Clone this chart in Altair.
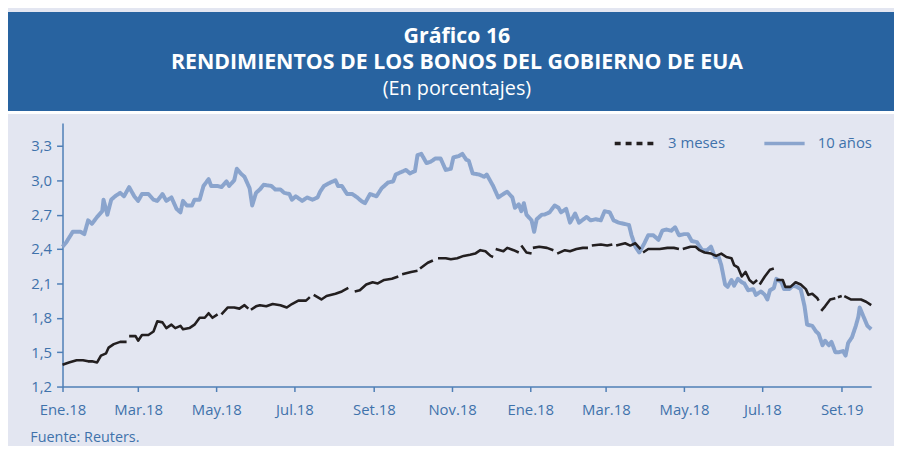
import altair as alt
import pandas as pd

# ---------------- data ----------------
TITLE_LINES = ["Gráfico 16", "RENDIMIENTOS DE LOS BONOS DEL GOBIERNO DE EUA", "(En porcentajes)"]
SOURCE = "Fuente: Reuters."
SERIES = ["3 meses", "10 años"]
X_TICK_DAYS = [0, 59, 120, 181, 243, 304, 365, 424, 485, 546, 608]
X_TICK_LABELS = ["Ene.18", "Mar.18", "May.18", "Jul.18", "Set.18", "Nov.18",
                 "Ene.18", "Mar.18", "May.18", "Jul.18", "Set.19"]
Y_TICKS = [1.2, 1.5, 1.8, 2.1, 2.4, 2.7, 3.0, 3.3]

# days counted from 1 Jan 2018
days_10y = [0, 3, 8, 14, 17, 20, 23, 27, 31, 32, 35, 38, 41, 45, 48, 52, 56, 59, 62, 67,
            71, 74, 78, 81, 85, 89, 92, 94, 97, 101, 103, 107, 110, 114, 116, 121, 124, 128,
            130, 134, 136, 139, 142, 146, 148, 151, 154, 157, 163, 166, 170, 173, 177, 179,
            182, 187, 191, 195, 199, 201, 204, 209, 213, 215, 218, 222, 226, 230, 233, 236,
            240, 245, 249, 254, 258, 260, 264, 268, 271, 275, 277, 280, 284, 287, 291, 295,
            299, 303, 305, 309, 312, 315, 317, 320, 325, 329, 331, 334, 336, 340, 344, 347,
            351, 353, 356, 358, 360, 362, 366, 368, 370, 374, 376, 380, 384, 387, 389, 393,
            396, 400, 403, 409, 412, 416, 420, 423, 427, 430, 434, 438, 442, 444, 447, 450,
            454, 457, 461, 465, 468, 471, 475, 478, 481, 485, 488, 491, 495, 499, 503, 506,
            509, 512, 514, 517, 519, 522, 524, 527, 530, 532, 535, 539, 541, 545, 548, 550,
            552, 555, 557, 561, 563, 567, 570, 573, 576, 579, 581, 585, 588, 590, 593, 595,
            598, 600, 603, 606, 609, 611, 613, 616, 619, 621, 622, 625, 628, 631]
vals_10y = [2.42, 2.46, 2.55, 2.55, 2.53, 2.65, 2.62, 2.68, 2.73, 2.83, 2.70, 2.83, 2.86,
            2.89, 2.86, 2.94, 2.86, 2.82, 2.88, 2.88, 2.83, 2.82, 2.88, 2.82, 2.85, 2.75,
            2.72, 2.82, 2.78, 2.78, 2.83, 2.83, 2.95, 3.01, 2.95, 2.95, 2.94, 2.99, 2.95,
            3.00, 3.10, 3.06, 3.03, 2.93, 2.78, 2.89, 2.92, 2.96, 2.95, 2.92, 2.92, 2.89,
            2.88, 2.83, 2.86, 2.82, 2.85, 2.83, 2.85, 2.90, 2.95, 2.98, 3.00, 2.95, 2.95,
            2.88, 2.88, 2.85, 2.82, 2.80, 2.88, 2.86, 2.93, 2.98, 2.99, 3.05, 3.07, 3.09,
            3.06, 3.08, 3.22, 3.23, 3.15, 3.16, 3.19, 3.19, 3.09, 3.10, 3.20, 3.21, 3.23,
            3.18, 3.17, 3.06, 3.05, 3.03, 3.05, 2.99, 2.95, 2.85, 2.88, 2.90, 2.85, 2.76,
            2.79, 2.73, 2.80, 2.70, 2.65, 2.55, 2.66, 2.70, 2.70, 2.72, 2.78, 2.76, 2.72,
            2.75, 2.63, 2.71, 2.63, 2.68, 2.65, 2.66, 2.65, 2.73, 2.72, 2.65, 2.63, 2.62,
            2.61, 2.52, 2.42, 2.37, 2.45, 2.52, 2.52, 2.48, 2.56, 2.57, 2.56, 2.59, 2.52,
            2.53, 2.53, 2.47, 2.46, 2.39, 2.39, 2.42, 2.33, 2.33, 2.26, 2.09, 2.07, 2.13,
            2.08, 2.14, 2.11, 2.10, 2.04, 2.05, 2.00, 2.03, 2.00, 1.96, 2.04, 2.06, 2.14,
            2.11, 2.05, 2.05, 2.08, 2.07, 2.05, 1.90, 1.74, 1.73, 1.68, 1.66, 1.56, 1.60,
            1.56, 1.59, 1.50, 1.50, 1.51, 1.47, 1.58, 1.63, 1.73, 1.81, 1.89, 1.81, 1.73,
            1.70]

# None marks a break in the 3-month series
days_3m = [0, 5, 11, 16, 20, 23, 27, 30, 34, 36, 40, 45, 50, None,
           52, 57, 59, 62, 67, 71, 74, 78, 81, 85, 88, 92, 94, 99, 103, 107, 111, 114, 117, 121, None,
           124, 129, 134, 138, 142, 145, None,
           147, 151, 154, 159, 164, 170, 175, 179, 184, 190, 193, None,
           196, 202, 206, 213, 218, 223, None,
           228, 232, 237, 242, 246, 251, 257, 262, None,
           265, 272, 277, None,
           279, 285, 289, None,
           293, 299, 303, 308, 313, 318, 322, 326, 330, 334, 336, None,
           338, 344, 347, 352, 356, None,
           358, 362, 366, None,
           367, 372, 378, 383, None,
           386, 392, 396, 401, 406, 410, None,
           413, 420, 425, 429, None,
           432, 439, 443, 447, 451, None,
           453, 457, 461, 466, 472, 477, 481, None,
           484, 490, 494, 497, 501, 506, 510, 514, 518, 522, 524, 527, 530, 533, 536, 539, 542, None,
           544, 548, 552, 555, None,
           557, 562, 564, 568, 572, 576, 580, 582, 585, 589, 590, None,
           592, 595, 599, 603, None,
           605, 608, None,
           610, 615, 619, 623, 627, 631]
vals_3m = [1.39, 1.41, 1.43, 1.43, 1.42, 1.42, 1.41, 1.47, 1.49, 1.54, 1.57, 1.59, 1.59, None,
           1.64, 1.64, 1.60, 1.65, 1.65, 1.68, 1.77, 1.76, 1.71, 1.74, 1.71, 1.73, 1.70, 1.71, 1.74,
           1.80, 1.80, 1.84, 1.80, 1.83, None,
           1.83, 1.89, 1.89, 1.88, 1.91, 1.88, None,
           1.87, 1.90, 1.91, 1.90, 1.92, 1.91, 1.89, 1.92, 1.95, 1.95, 1.98, None,
           2.00, 1.96, 1.99, 2.01, 2.03, 2.06, None,
           2.03, 2.04, 2.09, 2.11, 2.10, 2.13, 2.14, 2.16, None,
           2.18, 2.20, 2.21, None,
           2.23, 2.28, 2.30, None,
           2.32, 2.32, 2.31, 2.32, 2.34, 2.35, 2.36, 2.39, 2.38, 2.34, 2.33, None,
           2.40, 2.38, 2.41, 2.39, 2.37, None,
           2.43, 2.37, 2.36, None,
           2.41, 2.42, 2.41, 2.39, None,
           2.36, 2.39, 2.38, 2.40, 2.41, 2.41, None,
           2.43, 2.44, 2.43, 2.44, None,
           2.43, 2.45, 2.43, 2.45, 2.40, None,
           2.37, 2.40, 2.40, 2.40, 2.41, 2.41, 2.40, None,
           2.40, 2.42, 2.42, 2.39, 2.37, 2.36, 2.34, 2.36, 2.33, 2.32, 2.26, 2.24, 2.16, 2.20,
           2.13, 2.10, 2.13, None,
           2.09, 2.16, 2.22, 2.23, None,
           2.13, 2.13, 2.07, 2.07, 2.11, 2.09, 2.05, 2.00, 2.01, 1.97, 1.95, None,
           1.86, 1.90, 1.96, 1.97, None,
           1.98, 1.99, None,
           1.99, 1.96, 1.96, 1.96, 1.94, 1.91]

# ---------------- style ----------------
FONT = "Open Sans"
HEADER_BLUE = "#2863a0"
PANEL = "#e3e6f1"
TEXT_BLUE = "#3f72ab"
AXIS_BLUE = "#4f7fb6"
LINE_10Y = "#8aa4cd"
LINE_3M = "#231f20"
W, H = 816, 266

df10 = pd.DataFrame({"dia": days_10y, "valor": vals_10y, "serie": SERIES[1]})
rows = []
seg = 0
for d, v in zip(days_3m, vals_3m):
    if v is None:
        seg += 1
        continue
    rows.append({"dia": d, "valor": v, "serie": SERIES[0], "tramo": seg})
df3 = pd.DataFrame(rows)

label_expr = "{}[indexof({}, datum.value)]".format(
    "[" + ",".join("'%s'" % s for s in X_TICK_LABELS) + "]",
    "[" + ",".join(str(v) for v in X_TICK_DAYS) + "]",
)

x_axis = alt.Axis(
    values=X_TICK_DAYS, labelExpr=label_expr, grid=False,
    domainColor=AXIS_BLUE, domainWidth=1.5, tickColor=AXIS_BLUE, tickWidth=1.5, tickSize=5,
    labelColor=TEXT_BLUE, labelFont=FONT, labelFontSize=15, labelPadding=11, labelFlush=False,
    title=SOURCE, titleX=-33, titleY=51, titleAlign="left", titleAnchor="start",
    titleBaseline="middle", titleFont=FONT, titleFontSize=14.5, titleFontWeight="normal",
    titleColor=TEXT_BLUE,
)
y_axis = alt.Axis(
    values=Y_TICKS, labelExpr="replace(format(datum.value, '.1f'), '.', ',')", grid=False,
    domainColor=AXIS_BLUE, domainWidth=1.5, tickColor=AXIS_BLUE, tickWidth=1.5, tickSize=6,
    labelColor=TEXT_BLUE, labelFont=FONT, labelFontSize=15, labelPadding=5, title=None,
)

x_enc = alt.X("dia:Q", scale=alt.Scale(domain=[0, 631], nice=False, zero=False), axis=x_axis)
y_enc = alt.Y("valor:Q", scale=alt.Scale(domain=[1.2, 3.5], nice=False, zero=False), axis=y_axis)

legend = alt.Legend(
    orient="none", legendX=555, legendY=-2, direction="horizontal", title=None,
    symbolType="stroke", symbolSize=1650, symbolStrokeWidth=3.5,
    labelFont=FONT, labelFontSize=15, labelColor=TEXT_BLUE, labelOffset=11,
    columnPadding=32, padding=0,
)
color_enc = alt.Color("serie:N", scale=alt.Scale(domain=SERIES, range=[LINE_3M, LINE_10Y]),
                      legend=legend)

line10 = alt.Chart(df10).mark_line(strokeWidth=4, strokeJoin="round").encode(
    x=x_enc, y=y_enc, color=color_enc,
    strokeDash=alt.StrokeDash("serie:N", scale=alt.Scale(domain=SERIES, range=[[6, 5], [1, 0]]),
                              legend=legend),
)
line3 = alt.Chart(df3).mark_line(strokeWidth=2.6, strokeJoin="round").encode(
    x=x_enc, y=y_enc, color=color_enc, detail="tramo:N",
)

# ---------------- header band (above the plot area) ----------------
one = pd.DataFrame({"t": [TITLE_LINES[0]]})
band = alt.Chart(one).mark_rect(color=HEADER_BLUE).encode(
    x=alt.value(-55), x2=alt.value(W + 23), y=alt.value(-112), y2=alt.value(-12)
)
gap = alt.Chart(one).mark_rect(color="white").encode(
    x=alt.value(-55), x2=alt.value(W + 23), y=alt.value(-12), y2=alt.value(-9)
)


def header_text(txt, y, size, weight):
    return alt.Chart(pd.DataFrame({"t": [txt]})).mark_text(
        font=FONT, fontSize=size, fontWeight=weight, color="white", align="center",
        baseline="middle",
    ).encode(text="t:N", x=alt.value(398), y=alt.value(y))


chart = alt.layer(
    band,
    gap,
    header_text(TITLE_LINES[0], -87, 21.5, "bold"),
    header_text(TITLE_LINES[1], -60, 21.5, "bold"),
    header_text(TITLE_LINES[2], -34, 20, "normal"),
    line10,
    line3,
).properties(
    width=W, height=H, background=PANEL,
    padding={"left": 0, "top": 2, "right": 0, "bottom": 0},
).configure_view(stroke=None)

chart.save("out.html", embed_options={"renderer": "svg", "actions": False})
